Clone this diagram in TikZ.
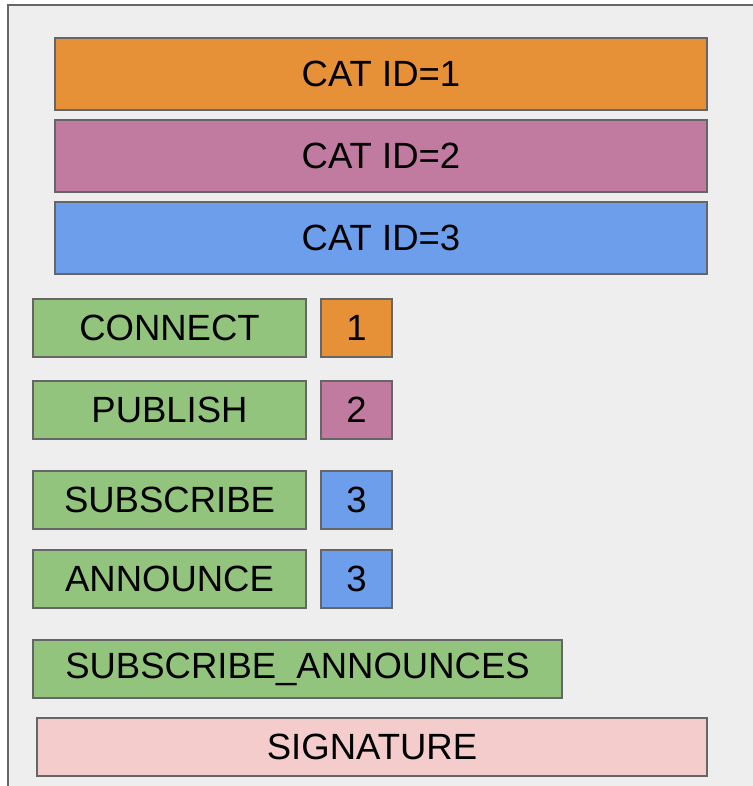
\documentclass[tikz,border=0pt]{standalone}
\usepackage{fontspec}
\setmainfont{Liberation Sans}
\usetikzlibrary{positioning}
\definecolor{catorange}{HTML}{E69138}
\definecolor{catpink}{HTML}{C27BA0}
\definecolor{catblue}{HTML}{6D9EEB}
\definecolor{msggreen}{HTML}{93C47D}
\definecolor{sigpink}{HTML}{F4CCCC}
\definecolor{bggray}{HTML}{EEEEEE}
\definecolor{edgegray}{HTML}{666666}

\begin{document}
\begin{tikzpicture}[x=1pt, y=-1pt,
  box/.style={draw=edgegray, line width=2pt, inner sep=0pt, outer sep=0pt,
    minimum height=58pt, font=\fontsize{36.5}{40}\selectfont},
  catbox/.style={box, minimum width=652pt, minimum height=72pt},
  msgbox/.style={box, fill=msggreen, minimum width=273pt},
  idbox/.style={box, minimum width=71pt}]

\useasboundingbox (0,0) rectangle (752,786);
\draw[draw=edgegray, fill=bggray, line width=2pt] (7.5,5.5) rectangle (770,800);

% categories
\node[catbox, fill=catorange] (cat1) at (381,74) {CAT ID=1};
\node[catbox, fill=catpink, below=10pt of cat1] (cat2) {CAT ID=2};
\node[catbox, fill=catblue, below=10pt of cat2] (cat3) {CAT ID=3};

% messages
\node[msgbox] (connect) at (169.5,328) {CONNECT};
\node[idbox, fill=catorange, right=15pt of connect] (connectid) {1};

\node[msgbox] (publish) at (169.5,410) {PUBLISH};
\node[idbox, fill=catpink, right=15pt of publish] (publishid) {2};

\node[msgbox] (subscribe) at (169.5,500) {SUBSCRIBE};
\node[idbox, fill=catblue, right=15pt of subscribe] (subscribeid) {3};

\node[msgbox] (announce) at (169.5,579) {ANNOUNCE};
\node[idbox, fill=catblue, right=15pt of announce] (announceid) {3};

\node[msgbox, minimum width=529pt] (subann) at (297.5,669) {SUBSCRIBE\_ANNOUNCES};

\node[box, fill=sigpink, minimum width=670pt] (signature) at (372,747) {SIGNATURE};

\end{tikzpicture}
\end{document}
